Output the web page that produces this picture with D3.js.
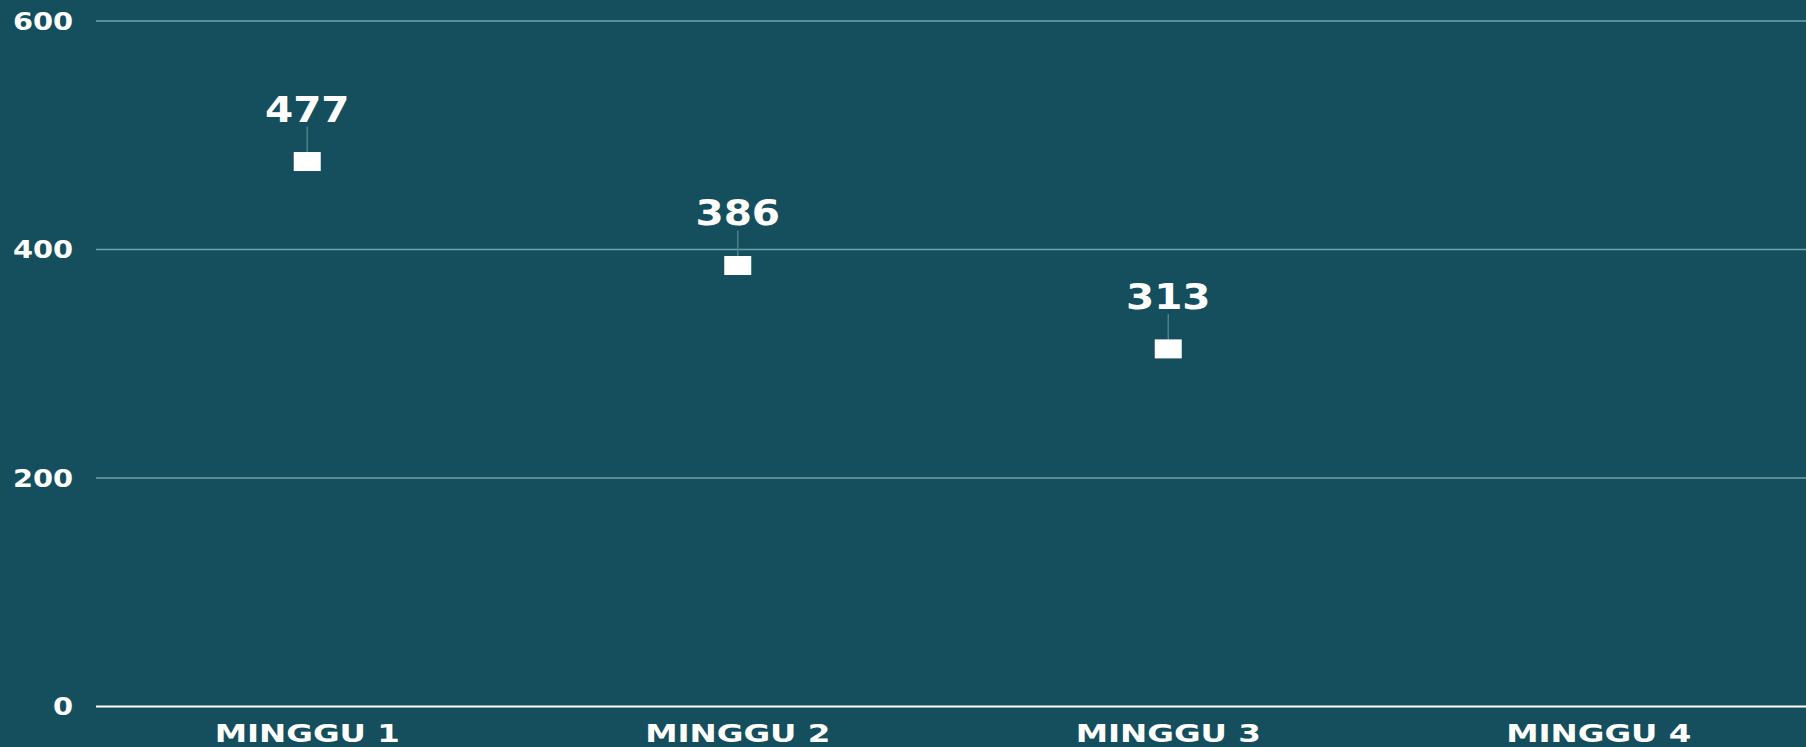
<!DOCTYPE html>
<html>
<head>
<meta charset="utf-8">
<script src="https://cdn.jsdelivr.net/npm/d3@7"></script>
<style>
  html, body { margin: 0; padding: 0; background: #154f5e; }
  svg { display: block; }
  text { font-family: "DejaVu Sans", sans-serif; font-weight: bold; fill: #ffffff; }
</style>
</head>
<body>
<svg id="chart" width="1806" height="747"></svg>
<script>
const categories = ["MINGGU 1", "MINGGU 2", "MINGGU 3", "MINGGU 4"];
const values = [477, 386, 313, null];
const yTicks = [0, 200, 400, 600];

const W = 1806, H = 747;
const margin = { left: 96, right: 0, top: 21, bottom: 41 };
const svg = d3.select("#chart");
svg.append("rect").attr("width", W).attr("height", H).attr("fill", "#154f5e");

const x = d3.scaleBand().domain(categories).range([92, 1814]).padding(0);
const y = d3.scaleLinear().domain([0, 600]).range([H - margin.bottom + 0.5, margin.top]);

// gridlines
svg.append("g").selectAll("line").data(yTicks.filter(t => t !== 0)).join("line")
  .attr("x1", margin.left).attr("x2", W)
  .attr("y1", d => y(d)).attr("y2", d => y(d))
  .attr("stroke", "#72a0a8").attr("stroke-width", 1.3);

// baseline
svg.append("line").attr("x1", margin.left).attr("x2", W)
  .attr("y1", y(0)).attr("y2", y(0))
  .attr("stroke", "#ffffff").attr("stroke-width", 2);

// y tick labels
svg.append("g").selectAll("text").data(yTicks).join("text")
  .attr("transform", d => `translate(73,${y(d)}) scale(1.2,1)`)
  .attr("text-anchor", "end").attr("dy", "0.36em")
  .attr("font-size", 24)
  .text(d => d);

// x category labels
svg.append("g").selectAll("text").data(categories).join("text")
  .attr("transform", d => `translate(${x(d) + x.bandwidth() / 2},742) scale(1.3,1)`)
  .attr("text-anchor", "middle")
  .attr("font-size", 25)
  .text(d => d);

const pts = categories.map((c, i) => ({ c, v: values[i] })).filter(d => d.v != null);
const mw = 27, mh = 19;

// leader lines
svg.append("g").selectAll("line").data(pts).join("line")
  .attr("x1", d => x(d.c) + x.bandwidth() / 2).attr("x2", d => x(d.c) + x.bandwidth() / 2)
  .attr("y1", d => y(d.v) - 35).attr("y2", d => y(d.v) - mh / 2)
  .attr("stroke", "#4d7f8a").attr("stroke-width", 1.5);

// markers
svg.append("g").selectAll("rect").data(pts).join("rect")
  .attr("x", d => x(d.c) + x.bandwidth() / 2 - mw / 2)
  .attr("y", d => y(d.v) - mh / 2)
  .attr("width", mw).attr("height", mh)
  .attr("fill", "#ffffff");

// data labels
svg.append("g").selectAll("text").data(pts).join("text")
  .attr("transform", d => `translate(${x(d.c) + x.bandwidth() / 2},${y(d.v) - 40}) scale(1.16,1)`)
  .attr("text-anchor", "middle")
  .attr("font-size", 35)
  .text(d => d.v);
</script>
</body>
</html>
